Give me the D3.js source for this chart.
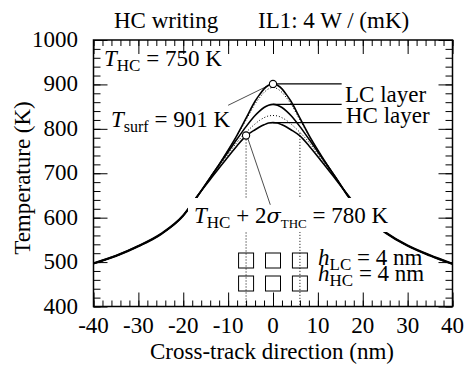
<!DOCTYPE html>
<html>
<head>
<meta charset="utf-8">
<script src="https://cdn.jsdelivr.net/npm/d3@7"></script>
<style>
  body { margin: 0; background: #fff; }
</style>
</head>
<body>
<div id="chart"></div>
<script>
// cross-track positions (nm)
const xPos = [-40, -35, -30, -25, -20, -17, -14, -12, -10, -8, -6, -4, -3, -2, -1, 0, 1, 2, 3, 4, 6, 8, 10, 12, 14, 17, 20, 25, 30, 35, 40];

// temperature profiles (K)
const lcSolid  = [497, 514, 536, 563, 604, 645, 690, 720, 752, 786, 824, 862, 877, 890, 898, 901, 898, 890, 877, 862, 824, 786, 752, 720, 690, 644, 607, 566, 536, 514, 495];
const lcDotted = [497, 514, 536, 563, 604, 646, 691, 721, 752, 785, 820, 856, 870, 882, 890, 893, 890, 882, 870, 856, 820, 785, 752, 721, 691, 645, 607, 566, 536, 514, 495];
const hcSolid  = [496, 513, 535, 562, 605, 646, 690, 719, 748, 777, 805, 830, 840, 848, 853, 855, 853, 848, 840, 830, 805, 777, 748, 719, 690, 645, 608, 567, 537, 515, 496];
const hcDotted = [496, 513, 535, 562, 605, 646, 689, 716, 743, 770, 792, 811, 819, 825, 829, 830, 829, 825, 819, 811, 792, 770, 743, 716, 689, 646, 608, 567, 537, 515, 496];
const hcLow    = [498, 515, 537, 564, 606, 647, 686, 712, 737, 762, 784, 798, 804, 809, 813, 814, 813, 809, 804, 798, 784, 762, 737, 712, 686, 647, 609, 568, 538, 516, 497];

const xTicks = [-40, -30, -20, -10, 0, 10, 20, 30, 40];
const yTicks = [400, 500, 600, 700, 800, 900, 1000];
const bitCols = [-6, 0, 6];

const width = 465, height = 374;
const serif = "'Liberation Serif'";
const greek = "'DejaVu Serif'";

const svg = d3.select('#chart').append('svg')
    .attr('width', width)
    .attr('height', height);

const x = d3.scaleLinear().domain([-40, 40]).range([93.5, 452.5]);
const y = d3.scaleLinear().domain([400, 1000]).range([306.5, 40]);

// text helper: parts = [{t, it, sub, size, fam}]
function stext(px, py, anchor, parts, size = 23, rot = 0) {
    const t = svg.append('text')
        .attr('text-anchor', anchor)
        .style('font-family', serif)
        .style('font-size', size + 'px')
        .attr('fill', '#000');
    if (rot) t.attr('transform', `translate(${px},${py}) rotate(${rot})`);
    else t.attr('x', px).attr('y', py);
    let shifted = 0;
    parts.forEach(p => {
        const s = t.append('tspan').text(p.t)
            .style('font-family', p.fam || serif);
        if (p.it) s.style('font-style', 'italic');
        const want = p.sub ? 5 : 0;
        if (want !== shifted) { s.attr('dy', want - shifted); shifted = want; }
        if (p.sub || p.size) s.style('font-size', (p.size || 17) + 'px');
    });
    return t;
}

// axes ticks (inward, on all four sides)
const minorX = d3.range(-40, 41, 2);
const minorY = d3.range(400, 1001, 20);
function ticks(axis, vals, size, tr) {
    const g = svg.append('g').attr('transform', tr)
        .call(axis.tickValues(vals).tickSize(-size).tickFormat(''));
    g.attr('font-family', null).attr('font-size', null).attr('text-anchor', null);
    g.selectAll('text').remove();
    g.select('.domain').remove();
    g.selectAll('line').attr('stroke', '#000').attr('stroke-width', 1);
}
ticks(d3.axisBottom(x), minorX, 6, `translate(0,${y(400)})`);
ticks(d3.axisBottom(x), xTicks, 14, `translate(0,${y(400)})`);
ticks(d3.axisTop(x), minorX, 6, `translate(0,${y(1000)})`);
ticks(d3.axisTop(x), xTicks, 14, `translate(0,${y(1000)})`);
ticks(d3.axisLeft(y), minorY, 7, `translate(${x(-40)},0)`);
ticks(d3.axisLeft(y), yTicks, 14, `translate(${x(-40)},0)`);
ticks(d3.axisRight(y), minorY, 7, `translate(${x(40)},0)`);
ticks(d3.axisRight(y), yTicks, 14, `translate(${x(40)},0)`);

// dotted guides at the bit edges
[[-6, 785], [6, 800]].forEach(([v, t0]) => {
    svg.append('line')
        .attr('x1', x(v)).attr('x2', x(v))
        .attr('y1', y(t0) + 4).attr('y2', y(400))
        .attr('stroke', '#000').attr('stroke-width', 1)
        .attr('stroke-dasharray', '1,2');
});

// bit squares
const bitRows = [260.5, 283.5];
bitRows.forEach(cy => {
    svg.append('g').selectAll('rect')
        .data(bitCols)
        .enter()
        .append('rect')
        .attr('x', d => x(d) - 7.5)
        .attr('y', cy - 7.5)
        .attr('width', 15)
        .attr('height', 15)
        .attr('fill', 'none')
        .attr('stroke', '#000')
        .attr('stroke-width', 1);
});

// curves
const line = d3.line()
    .x((d, i) => x(xPos[i]))
    .y(d => y(d))
    .curve(d3.curveMonotoneX);

const series = [
    { v: hcLow, dash: null },
    { v: hcDotted, dash: '1,2' },
    { v: hcSolid, dash: null },
    { v: lcDotted, dash: '1,2' },
    { v: lcSolid, dash: null }
];
series.forEach(s => {
    svg.append('path')
        .attr('d', line(s.v))
        .attr('fill', 'none')
        .attr('stroke', '#000')
        .attr('stroke-width', s.dash ? 1 : 1.6)
        .attr('stroke-dasharray', s.dash);
});

// frame
svg.append('rect')
    .attr('x', x(-40)).attr('y', y(1000))
    .attr('width', x(40) - x(-40)).attr('height', y(400) - y(1000))
    .attr('fill', 'none').attr('stroke', '#000').attr('stroke-width', 1.5);

// peak leaders to the layer labels
[d3.max(lcSolid), d3.max(hcSolid), d3.max(hcLow)].forEach(t => {
    svg.append('line')
        .attr('x1', x(0)).attr('x2', x(15.3))
        .attr('y1', y(t)).attr('y2', y(t))
        .attr('stroke', '#000').attr('stroke-width', 1.2);
});

// white box under the sigma note
svg.append('rect')
    .attr('x', 188).attr('y', 198).attr('width', 211).attr('height', 34)
    .attr('fill', '#fff');

// thin leader lines
svg.append('line')
    .attr('x1', x(-10)).attr('y1', y(853))
    .attr('x2', x(-0.7)).attr('y2', y(899))
    .attr('stroke', '#000').attr('stroke-width', 0.7);
svg.append('line')
    .attr('x1', x(-5.6)).attr('y1', y(778))
    .attr('x2', x(-0.6)).attr('y2', y(629))
    .attr('stroke', '#000').attr('stroke-width', 0.7);

// marker circles
[[0, 901], [-6, 785]].forEach(([v, t]) => {
    svg.append('circle')
        .attr('cx', x(v)).attr('cy', y(t)).attr('r', 3.6)
        .attr('fill', '#fff').attr('stroke', '#000').attr('stroke-width', 1.1);
});

// tick labels
xTicks.forEach(v => stext(x(v), 333, 'middle', [{ t: String(v) }]));
yTicks.forEach(v => stext(78, y(v) + 7, 'end', [{ t: String(v) }]));

// axis titles
stext(272, 359, 'middle', [{ t: 'Cross-track direction (nm)' }]);
stext(30, 178, 'middle', [{ t: 'Temperature (K)' }], 23, -90);

// title line
stext(114, 28, 'start', [{ t: 'HC writing' }]);
stext(258, 28, 'start', [{ t: 'IL1:  4 W / (mK)' }]);

// annotations
stext(104, 66, 'start', [{ t: 'T', it: true }, { t: 'HC', sub: true }, { t: ' = 750 K' }]);
stext(111, 127, 'start', [{ t: 'T', it: true }, { t: 'surf', sub: true, size: 16 }, { t: ' = 901 K' }]);
stext(345, 102, 'start', [{ t: 'LC layer' }]);
stext(346, 123, 'start', [{ t: 'HC layer' }]);
stext(194, 223, 'start', [
    { t: 'T', it: true }, { t: 'HC', sub: true }, { t: ' + 2' },
    { t: 'σ', it: true, fam: greek, size: 21 }, { t: 'THC', sub: true, size: 13 }, { t: ' = 780 K' }
]);
stext(318, 265, 'start', [{ t: 'h', it: true }, { t: 'LC', sub: true }, { t: ' = 4 nm' }]);
stext(318, 281, 'start', [{ t: 'h', it: true }, { t: 'HC', sub: true }, { t: ' = 4 nm' }]);
</script>
</body>
</html>
